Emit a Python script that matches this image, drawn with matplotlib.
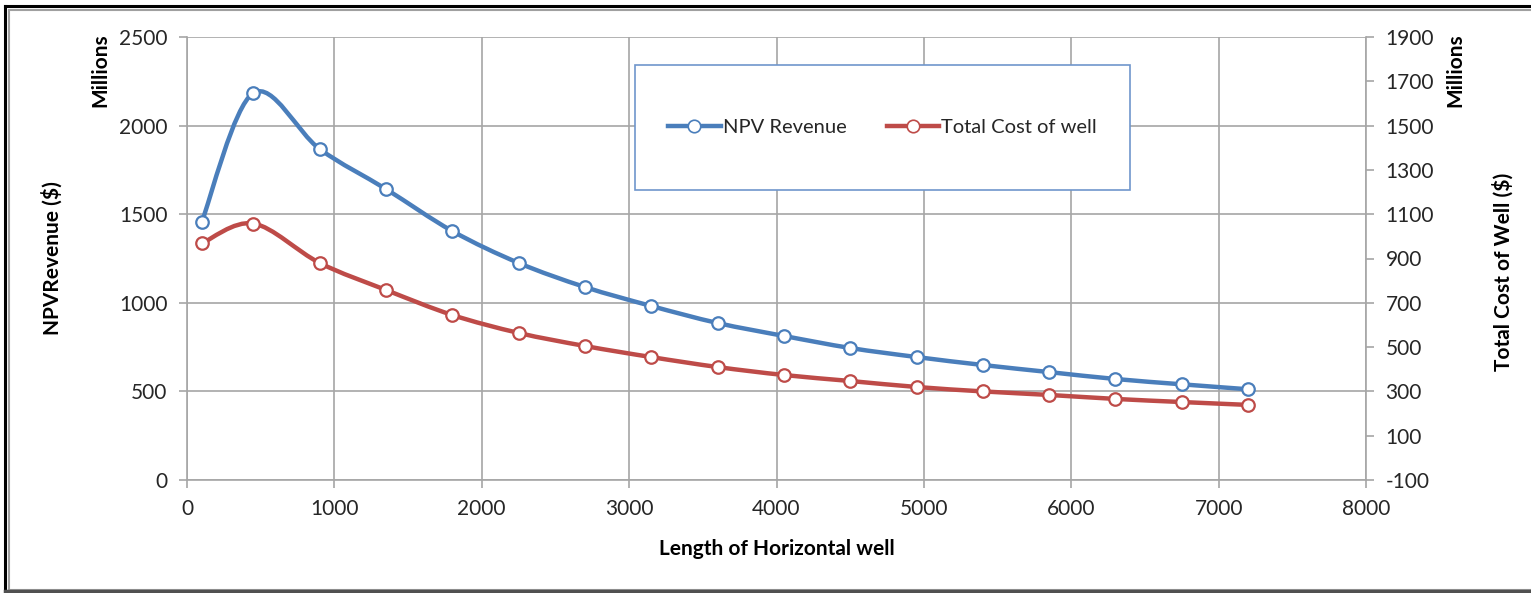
#!/usr/bin/env python3
"""
NPV revenue and total well cost against horizontal well length,
drawn on twin y-axes with Excel-style smoothed lines.
"""

import numpy as np
import matplotlib.pyplot as plt
from matplotlib.path import Path
from matplotlib.patches import PathPatch, Rectangle
from matplotlib.lines import Line2D

# ============================================================================
# Data (millions of $)
# ============================================================================

well_length = [100, 450, 900, 1350, 1800, 2250, 2700, 3150, 3600,
               4050, 4500, 4950, 5400, 5850, 6300, 6750, 7200]

npv_revenue = [1456, 2184, 1868, 1642, 1405, 1225, 1089, 982, 886,
               813, 745, 694, 649, 609, 570, 540, 512]

total_cost = [968, 1058, 880, 758, 645, 564, 505, 455, 410,
              374, 347, 320, 300, 284, 266, 252, 239]

BLUE = '#4A7EBB'
RED = '#BE4B48'
GRID = '#A6A6A6'
TEXT = '#262626'

plt.rcParams['font.family'] = ['Lato', 'DejaVu Sans']
plt.rcParams['axes.unicode_minus'] = False


def smooth_path(x, y):
    """Cubic Bezier path through the points (Catmull-Rom style, like Excel)."""
    pts = np.column_stack([x, y]).astype(float)
    n = len(pts)
    verts = [pts[0]]
    codes = [Path.MOVETO]
    for i in range(n - 1):
        p0 = pts[i - 1] if i > 0 else pts[i]
        p1 = pts[i]
        p2 = pts[i + 1]
        p3 = pts[i + 2] if i + 2 < n else pts[i + 1]
        c1 = p1 + (p2 - p0) / 6.0
        c2 = p2 - (p3 - p1) / 6.0
        verts += [c1, c2, p2]
        codes += [Path.CURVE4] * 3
    return Path(verts, codes)


def draw_series(ax, x, y, color, label):
    ax.add_patch(PathPatch(smooth_path(x, y), facecolor='none',
                           edgecolor=color, lw=3.2, capstyle='round',
                           joinstyle='round', zorder=3))
    ax.plot(x, y, linestyle='none', marker='o', ms=9, mfc='white',
            mec=color, mew=1.6, zorder=4)
    return Line2D([], [], color=color, lw=3.2, marker='o', ms=9,
                  mfc='white', mec=color, mew=1.2, label=label)


fig = plt.figure(figsize=(15.31, 5.93), dpi=100)
ax = fig.add_axes([187 / 1531, 1 - 480 / 593, (1366 - 187) / 1531, (480 - 37) / 593])
ax2 = ax.twinx()

# Frame around the whole chart
fig.add_artist(Rectangle((9 / 1531, 3 / 593), 1.0, 1 - 13 / 593,
                         transform=fig.transFigure, fill=False,
                         edgecolor='#A0A0A0', lw=1.5))
fig.add_artist(Line2D([5 / 1531, 5 / 1531], [0, 1 - 6 / 593],
                      transform=fig.transFigure, color='black', lw=2.2))
fig.add_artist(Line2D([5 / 1531, 1], [1 - 6 / 593, 1 - 6 / 593],
                      transform=fig.transFigure, color='black', lw=2.2))
fig.add_artist(Line2D([5 / 1531, 1], [2 / 593, 2 / 593],
                      transform=fig.transFigure, color='#505050', lw=2.5))

h1 = draw_series(ax, well_length, npv_revenue, BLUE, 'NPV Revenue')
h2 = draw_series(ax2, well_length, total_cost, RED, 'Total Cost of well')

ax.set_xlim(0, 8000)
ax.set_ylim(0, 2500)
ax2.set_ylim(-100, 1900)
ax.set_xticks(np.arange(0, 8001, 1000))
ax.set_yticks(np.arange(0, 2501, 500))
ax2.set_yticks(np.arange(-100, 1901, 200))

ax.grid(True, color=GRID, lw=1.2)
ax.set_axisbelow(True)

for a in (ax, ax2):
    for side in ('top', 'left', 'right', 'bottom'):
        a.spines[side].set_visible(False)
    a.tick_params(colors=GRID, labelcolor=TEXT, labelsize=15,
                  length=6, width=1.2)
ax.spines['left'].set_visible(True)
ax.spines['bottom'].set_visible(True)
ax2.spines['right'].set_visible(True)
for s in (ax.spines['left'], ax.spines['bottom'], ax2.spines['right']):
    s.set_color(GRID)
    s.set_linewidth(1.2)
ax.tick_params(axis='y', pad=8)
ax.tick_params(axis='x', pad=8)
ax2.tick_params(axis='y', pad=8)

ax.set_xlabel('Length of Horizontal well', fontsize=15, fontweight='bold',
              color='black', labelpad=14)
ax.set_ylabel('NPVRevenue ($)', fontsize=15, fontweight='bold',
              color='black')
ax2.set_ylabel('Total Cost of Well ($)', fontsize=15, fontweight='bold',
               color='black')
ax.yaxis.set_label_coords(-0.1055, 0.5, transform=ax.transAxes)
ax2.yaxis.set_label_coords(1.1075, 0.47, transform=ax.transAxes)

fig.text(100 / 1531, 1 - 70 / 593, 'Millions', rotation=90, ha='center',
         va='center', fontsize=15, fontweight='bold')
fig.text(1455 / 1531, 1 - 70 / 593, 'Millions', rotation=90, ha='center',
         va='center', fontsize=15, fontweight='bold')

# Legend box with the entries centred inside it
box = ((635 - 187) / 1179, 1 - (190 - 37) / 443,
       (1130 - 635) / 1179, (190 - 65) / 443)
ax2.add_patch(Rectangle(box[:2], box[2], box[3], transform=ax2.transAxes,
                        facecolor='white', edgecolor='#6F96CC', lw=1.2,
                        zorder=5))
leg = ax2.legend(handles=[h1, h2], loc='center', ncol=2, frameon=False,
                 fontsize=14.5, handlelength=2.6, handletextpad=0.1,
                 columnspacing=2.0,
                 bbox_to_anchor=(box[0] + box[2] / 2, box[1] + box[3] / 2))
leg.set_zorder(6)
for t in leg.get_texts():
    t.set_color(TEXT)

fig.savefig('out.png', dpi=100)
